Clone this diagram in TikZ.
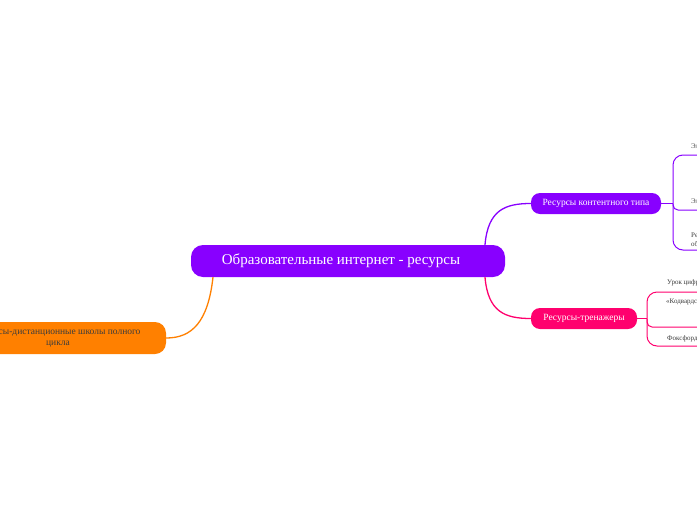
\documentclass[tikz,border=0pt]{standalone}
\usepackage{fontspec}
\setmainfont{Liberation Serif}
\definecolor{cpurple}{RGB}{136,0,255}
\definecolor{cpink}{RGB}{255,0,110}
\definecolor{corange}{RGB}{255,128,0}
\definecolor{ctext}{RGB}{60,60,60}
\begin{document}
\begin{tikzpicture}[x=1pt,y=-1pt,
  box/.style={rounded corners=#1, draw=none, inner sep=0pt, align=center},
  centralbox/.style={box=12pt, fill=cpurple, text=white, minimum width=314pt, minimum height=32pt, font=\fontsize{15}{18}\selectfont},
  subbox/.style={box=9pt, text=white, minimum height=21pt, font=\fontsize{9.5}{11}\selectfont},
  orangebox/.style={box=11pt, fill=corange, text=ctext, minimum width=216pt, minimum height=32pt, font=\fontsize{9.5}{11.5}\selectfont},
  leaf/.style={anchor=west, inner sep=0pt, text=ctext, font=\fontsize{7}{8.5}\selectfont, align=left},
  conn/.style={line width=1.3pt},
  leafline/.style={line width=1pt, rounded corners=10pt}
]
\useasboundingbox (0,0) rectangle (697,520);
\fill[white] (0,0) rectangle (697,520);

\coordinate (cA) at (485,245);
\coordinate (cB) at (485,277);
\coordinate (cC) at (213,277);

\node[centralbox] (central) at (348,261) {Образовательные интернет - ресурсы\hspace*{14pt}};
\node[subbox, fill=cpurple, minimum width=130pt] (content) at (596,203.5) {Ресурсы контентного типа};
\node[subbox, fill=cpink, minimum width=106pt] (trainer) at (584,318.5) {Ресурсы-тренажеры};
\node[orangebox] (schools) at (58,338) {Ресурсы-дистанционные школы полного\\цикла};

\draw[conn, cpurple] (central.north -| cA) .. controls (488,210) and (505,203.5) .. (content.west);
\draw[conn, cpink] (central.south -| cB) .. controls (488,312) and (505,318.5) .. (trainer.west);
\draw[conn, corange] (central.south -| cC) .. controls (208,322) and (192,338) .. (schools.east);

% purple leaves
\coordinate (jp) at (673,203.5);
\coordinate (p1) at (705,155);
\coordinate (p2) at (705,210);
\coordinate (p3) at (705,250);
\draw[conn, cpurple] (content.east) -- (jp);
\draw[leafline, cpurple] (jp) |- (p1);
\draw[leafline, cpurple, rounded corners=5pt] (jp) |- (p2);
\draw[leafline, cpurple] (jp) |- (p3);
\node[leaf] (l1) at (691,147) {Электронные};
\node[leaf] (l2) at (691,202) {Электронные};
\node[leaf] (l3) at (691,240.5) {Ресурсы\\образовательных};

% pink leaves
\coordinate (jk) at (647,318.5);
\coordinate (k1) at (705,292);
\coordinate (k2) at (705,327);
\coordinate (k3) at (705,346);
\draw[conn, cpink] (trainer.east) -- (jk);
\draw[leafline, cpink] (jk) |- (k1);
\draw[leafline, cpink, rounded corners=5pt] (jk) |- (k2);
\draw[leafline, cpink] (jk) |- (k3);
\node[leaf] (m1) at (667,283) {Урок цифры};
\node[leaf] (m2) at (666,302) {«Кодвардс»};
\node[leaf] (m3) at (667,339) {Фоксфорд};
\end{tikzpicture}
\end{document}
